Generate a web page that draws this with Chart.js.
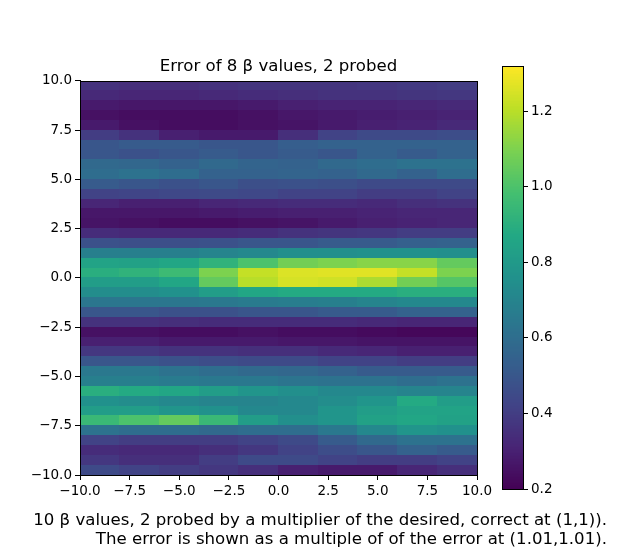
<!DOCTYPE html>
<html>
<head>
<meta charset="utf-8">
<script src="https://cdn.jsdelivr.net/npm/chart.js@4/dist/chart.umd.min.js"></script>
<style>
  html, body { margin: 0; padding: 0; background: #fff; }
  #wrap { position: relative; width: 640px; height: 549px; overflow: hidden; }
  #main { position: absolute; left: 0; top: 0; }
  #cbar { position: absolute; left: 480px; top: 0; }
  #caption {
    position: absolute; right: 33px; top: 510px;
    font-family: "DejaVu Sans", sans-serif; font-size: 16.6px; line-height: 19px;
    text-align: right; color: #000; white-space: nowrap;
  }
</style>
</head>
<body>
<div id="wrap">
  <canvas id="main" width="640" height="549"></canvas>
  <canvas id="cbar" width="160" height="549"></canvas>
  <div id="caption">10 β values, 2 probed by a multiplier of the desired, correct at (1,1)).<br>The error is shown as a multiple of of the error at (1.01,1.01).</div>
</div>
<script>
// cell centres
var xCenters = [-9, -7, -5, -3, -1, 1, 3, 5, 7, 9];
var yCenters = [9.75, 9.25, 8.75, 8.25, 7.75, 7.25, 6.75, 6.25, 5.75, 5.25,
                4.75, 4.25, 3.75, 3.25, 2.75, 2.25, 1.75, 1.25, 0.75, 0.25,
                -0.25, -0.75, -1.25, -1.75, -2.25, -2.75, -3.25, -3.75, -4.25, -4.75,
                -5.25, -5.75, -6.25, -6.75, -7.25, -7.75, -8.25, -8.75, -9.25, -9.75];

// error multiple, one row per y centre (top to bottom)
var errorRows = [
  [0.36, 0.35, 0.35, 0.36, 0.37, 0.37, 0.37, 0.38, 0.39, 0.40],
  [0.33, 0.32, 0.32, 0.33, 0.34, 0.35, 0.36, 0.36, 0.37, 0.38],
  [0.28, 0.27, 0.27, 0.27, 0.28, 0.30, 0.31, 0.31, 0.32, 0.33],
  [0.25, 0.24, 0.24, 0.24, 0.25, 0.27, 0.28, 0.29, 0.30, 0.31],
  [0.28, 0.25, 0.24, 0.24, 0.25, 0.26, 0.28, 0.30, 0.31, 0.33],
  [0.40, 0.36, 0.30, 0.28, 0.28, 0.35, 0.42, 0.45, 0.45, 0.46],
  [0.50, 0.52, 0.52, 0.50, 0.50, 0.53, 0.55, 0.55, 0.55, 0.55],
  [0.50, 0.48, 0.50, 0.52, 0.50, 0.52, 0.50, 0.55, 0.52, 0.55],
  [0.58, 0.57, 0.55, 0.58, 0.56, 0.55, 0.58, 0.60, 0.62, 0.62],
  [0.60, 0.62, 0.60, 0.55, 0.55, 0.56, 0.55, 0.58, 0.55, 0.60],
  [0.52, 0.50, 0.48, 0.50, 0.47, 0.48, 0.47, 0.45, 0.45, 0.45],
  [0.42, 0.43, 0.44, 0.45, 0.44, 0.42, 0.42, 0.40, 0.40, 0.42],
  [0.32, 0.30, 0.30, 0.32, 0.33, 0.34, 0.34, 0.33, 0.35, 0.36],
  [0.27, 0.27, 0.27, 0.28, 0.29, 0.30, 0.30, 0.31, 0.32, 0.32],
  [0.26, 0.25, 0.24, 0.24, 0.25, 0.26, 0.28, 0.30, 0.31, 0.32],
  [0.34, 0.33, 0.33, 0.33, 0.34, 0.36, 0.37, 0.38, 0.40, 0.40],
  [0.48, 0.47, 0.47, 0.48, 0.50, 0.50, 0.52, 0.52, 0.54, 0.55],
  [0.68, 0.68, 0.68, 0.70, 0.72, 0.75, 0.75, 0.76, 0.76, 0.75],
  [0.85, 0.84, 0.86, 0.92, 1.00, 1.08, 1.10, 1.12, 1.12, 1.05],
  [0.90, 0.92, 0.96, 1.10, 1.22, 1.26, 1.27, 1.27, 1.22, 1.10],
  [0.82, 0.82, 0.86, 1.05, 1.20, 1.25, 1.24, 1.18, 1.08, 1.02],
  [0.74, 0.74, 0.76, 0.82, 0.86, 0.88, 0.88, 0.88, 0.90, 0.90],
  [0.64, 0.64, 0.64, 0.65, 0.66, 0.67, 0.68, 0.70, 0.72, 0.72],
  [0.50, 0.50, 0.48, 0.48, 0.50, 0.50, 0.52, 0.52, 0.55, 0.55],
  [0.36, 0.36, 0.35, 0.34, 0.34, 0.34, 0.34, 0.33, 0.32, 0.32],
  [0.25, 0.25, 0.24, 0.24, 0.25, 0.24, 0.24, 0.23, 0.22, 0.22],
  [0.30, 0.30, 0.28, 0.28, 0.28, 0.27, 0.27, 0.26, 0.26, 0.26],
  [0.38, 0.38, 0.36, 0.36, 0.35, 0.35, 0.33, 0.32, 0.30, 0.30],
  [0.50, 0.50, 0.48, 0.46, 0.45, 0.45, 0.42, 0.42, 0.40, 0.40],
  [0.65, 0.65, 0.62, 0.60, 0.58, 0.57, 0.55, 0.52, 0.52, 0.52],
  [0.68, 0.68, 0.66, 0.65, 0.65, 0.63, 0.62, 0.62, 0.60, 0.62],
  [0.90, 0.88, 0.86, 0.82, 0.78, 0.75, 0.72, 0.72, 0.70, 0.70],
  [0.76, 0.74, 0.72, 0.70, 0.70, 0.72, 0.74, 0.78, 0.88, 0.82],
  [0.82, 0.82, 0.78, 0.76, 0.72, 0.72, 0.78, 0.82, 0.85, 0.85],
  [0.95, 1.00, 1.05, 0.95, 0.82, 0.75, 0.78, 0.84, 0.86, 0.84],
  [0.62, 0.60, 0.60, 0.58, 0.60, 0.60, 0.65, 0.72, 0.78, 0.76],
  [0.42, 0.40, 0.40, 0.40, 0.42, 0.45, 0.52, 0.58, 0.62, 0.62],
  [0.34, 0.33, 0.33, 0.35, 0.38, 0.42, 0.46, 0.50, 0.55, 0.52],
  [0.38, 0.35, 0.35, 0.40, 0.45, 0.45, 0.42, 0.40, 0.40, 0.42],
  [0.45, 0.42, 0.40, 0.38, 0.35, 0.30, 0.28, 0.28, 0.32, 0.35]
];

var axisTicks = [-10, -7.5, -5, -2.5, 0, 2.5, 5, 7.5, 10];
var colorbarTicks = [0.2, 0.4, 0.6, 0.8, 1.0, 1.2];
var colorMin = 0.2, colorMax = 1.32;

// viridis, 11 stops
var viridisStops = ['#440154', '#482475', '#414487', '#355f8d', '#2a788e', '#21918c',
                    '#22a884', '#44bf70', '#7ad151', '#bddf26', '#fde725'];
function hexRgb(h) { return [1, 3, 5].map(function (i) { return parseInt(h.substr(i, 2), 16); }); }
var stopRgb = viridisStops.map(hexRgb);
function viridis(v) {
  var t = Math.max(0, Math.min(1, (v - colorMin) / (colorMax - colorMin))) * (stopRgb.length - 1);
  var i = Math.min(Math.floor(t), stopRgb.length - 2), f = t - i;
  var a = stopRgb[i], b = stopRgb[i + 1];
  return 'rgb(' + [0, 1, 2].map(function (k) { return Math.round(a[k] + (b[k] - a[k]) * f); }).join(',') + ')';
}

function fmt(v) { return Number(v).toFixed(1).replace('-', '\u2212'); }

Chart.defaults.font.family = '"DejaVu Sans", sans-serif';
Chart.defaults.font.size = 13.5;
Chart.defaults.color = '#000';

var cells = [];
yCenters.forEach(function (yv, r) {
  xCenters.forEach(function (xv, c) { cells.push({ x: xv, y: yv, v: errorRows[r][c] }); });
});
var halfW = 1, halfH = 0.25;

var heatmapPlugin = {
  id: 'heatmap',
  beforeDatasetsDraw: function (chart) {
    var ctx = chart.ctx, xs = chart.scales.x, ys = chart.scales.y, a = chart.chartArea;
    ctx.save();
    ctx.beginPath(); ctx.rect(a.left, a.top, a.right - a.left, a.bottom - a.top); ctx.clip();
    chart.data.datasets[0].data.forEach(function (p) {
      var l = Math.floor(xs.getPixelForValue(p.x - halfW)), r = Math.ceil(xs.getPixelForValue(p.x + halfW));
      var t = Math.floor(ys.getPixelForValue(p.y + halfH)), b = Math.ceil(ys.getPixelForValue(p.y - halfH));
      ctx.fillStyle = viridis(p.v);
      ctx.fillRect(l, t, r - l, b - t);
    });
    ctx.restore();
  },
  afterDraw: function (chart) {
    var ctx = chart.ctx, a = chart.chartArea;
    ctx.save(); ctx.strokeStyle = '#000'; ctx.lineWidth = 1;
    ctx.strokeRect(Math.round(a.left) + 0.5, Math.round(a.top) + 0.5, Math.round(a.right - a.left), Math.round(a.bottom - a.top));
    ctx.restore();
  }
};

function fixedTicks(list) { return function (s) { s.ticks = list.map(function (v) { return { value: v }; }); }; }

new Chart(document.getElementById('main'), {
  type: 'scatter',
  data: { datasets: [{ data: cells, pointRadius: 0, pointHoverRadius: 0 }] },
  options: {
    responsive: false, animation: false, events: [],
    layout: { padding: { left: 0, right: 163, top: 0, bottom: 0 } },
    plugins: {
      legend: { display: false }, tooltip: { enabled: false },
      title: { display: true, text: 'Error of 8 \u03b2 values, 2 probed', fullSize: false,
               font: { size: 16.6, weight: 'normal' }, padding: { top: 57, bottom: 4 } }
    },
    scales: {
      x: { type: 'linear', min: -10, max: 10, afterBuildTicks: fixedTicks(axisTicks),
           afterFit: function (s) { s.height = 74; },
           ticks: { callback: fmt, maxRotation: 0, padding: 3 },
           grid: { drawOnChartArea: false, tickLength: 5, tickColor: '#000' },
           border: { color: '#000' } },
      y: { type: 'linear', min: -10, max: 10, afterBuildTicks: fixedTicks(axisTicks),
           afterFit: function (s) { s.width = 80; },
           ticks: { callback: fmt, padding: 3 },
           grid: { drawOnChartArea: false, tickLength: 5, tickColor: '#000' },
           border: { color: '#000' } }
    }
  },
  plugins: [heatmapPlugin]
});

var colorbarPlugin = {
  id: 'colorbar',
  beforeDatasetsDraw: function (chart) {
    var ctx = chart.ctx, ys = chart.scales.y, a = chart.chartArea, step = 0.004;
    ctx.save();
    for (var v = colorMin; v < colorMax; v += step) {
      var t = ys.getPixelForValue(Math.min(v + step, colorMax)), b = ys.getPixelForValue(v);
      ctx.fillStyle = viridis(v + step / 2);
      ctx.fillRect(a.left, Math.floor(t), a.right - a.left, Math.ceil(b) - Math.floor(t));
    }
    ctx.strokeStyle = '#000'; ctx.lineWidth = 1;
    ctx.strokeRect(Math.round(a.left) + 0.5, Math.round(a.top) + 0.5, Math.round(a.right - a.left), Math.round(a.bottom - a.top));
    ctx.restore();
  }
};

new Chart(document.getElementById('cbar'), {
  type: 'scatter',
  data: { datasets: [{ data: [], pointRadius: 0 }] },
  options: {
    responsive: false, animation: false, events: [],
    layout: { padding: { left: 22, right: 0, top: 66, bottom: 60 } },
    plugins: { legend: { display: false }, tooltip: { enabled: false } },
    scales: {
      x: { display: false, min: 0, max: 1 },
      y: { type: 'linear', position: 'right', min: colorMin, max: colorMax,
           afterBuildTicks: fixedTicks(colorbarTicks),
           afterFit: function (s) { s.width = 117; },
           ticks: { callback: fmt, padding: 3 },
           grid: { drawOnChartArea: false, tickLength: 5, tickColor: '#000' },
           border: { display: false } }
    }
  },
  plugins: [colorbarPlugin]
});
</script>
</body>
</html>
